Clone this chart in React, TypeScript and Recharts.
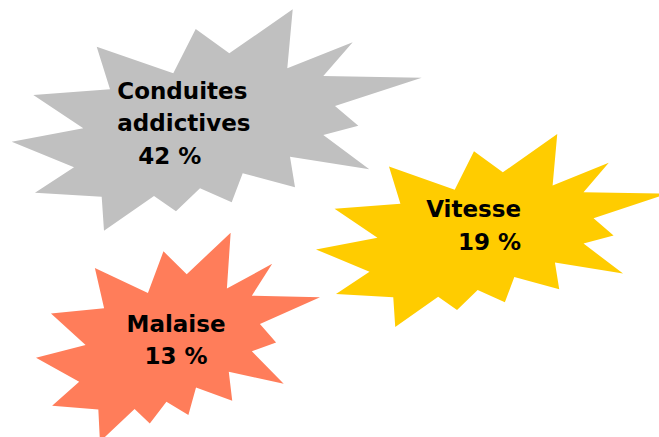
import React from "react";
import { ScatterChart, Scatter, XAxis, YAxis } from "recharts";

// Data
const categories: string[] = ["Conduites addictives", "Vitesse", "Malaise"];
const values: number[] = [42, 19, 13];

// Layout (pixel boxes of each starburst, identity scale)
const boxCenters: [number, number][] = [
  [216.7, 120],
  [492, 230.5],
  [178, 337.2],
];
const boxSizes: [number, number][] = [
  [410, 221.4],
  [352, 193],
  [284, 209],
];
const colors: string[] = ["#C0C0C0", "#FFCC00", "#FF7D5A"];
const labelAnchors: ("start" | "middle" | "end")[] = ["start", "end", "middle"];
// per-line [dx, dy] relative to the box center
const labelOffsets: [number, number][][] = [
  [[-99.4, -20.7], [-99.4, 10.7], [-78.4, 44.3]],
  [[29, -13.8], [29, 19.5]],
  [[-2, -5.5], [-2, 26.8]],
];

// normalized starburst outline (0..1 of bounding box)
const STAR: [number, number][] = [
  [0.6854, 0], [0.6722, 0.2665], [0.8317, 0.1491], [0.76, 0.3013],
  [1.0, 0.3089], [0.7885, 0.4368], [0.8454, 0.5257], [0.76, 0.5678],
  [0.8722, 0.7227], [0.6788, 0.6658], [0.691, 0.804], [0.5634, 0.7407],
  [0.5366, 0.8717], [0.4593, 0.8085], [0.4007, 0.9124], [0.3471, 0.8433],
  [0.2251, 1.0], [0.2195, 0.8464], [0.0568, 0.8284], [0.152, 0.7136],
  [0, 0.598], [0.1746, 0.5375], [0.0527, 0.3871], [0.2398, 0.3613],
  [0.2073, 0.1689], [0.3941, 0.2891], [0.4488, 0.089], [0.5307, 0.1987],
];

const data = categories.map((name, i) => ({
  name,
  value: values[i],
  x: boxCenters[i][0],
  y: boxCenters[i][1],
  idx: i,
}));

const StarShape = (props: any) => {
  const { cx, cy, payload } = props;
  const i = payload.idx;
  const [w, h] = boxSizes[i];
  const pts = STAR.map(([u, v]) => `${cx + (u - 0.5) * w},${cy + (v - 0.5) * h}`).join(" ");
  const lines = [...payload.name.split(" "), `${payload.value} %`];
  return (
    <g>
      <polygon points={pts} fill={colors[i]} stroke="none" />
      {lines.map((t: string, k: number) => (
        <text
          key={k}
          x={cx + labelOffsets[i][k][0]}
          y={cy + labelOffsets[i][k][1]}
          textAnchor={labelAnchors[i]}
          fontFamily="'DejaVu Sans', sans-serif"
          fontWeight={700}
          fontSize={23}
          fill="#000"
        >
          {t}
        </text>
      ))}
    </g>
  );
};

export default function App() {
  return (
    <div style={{ position: "absolute", left: 0, top: 0, width: 659, height: 437, background: "#fff" }}>
      <ScatterChart width={659} height={437} margin={{ top: 0, right: 0, bottom: 0, left: 0 }}>
        <XAxis type="number" dataKey="x" domain={[0, 659]} hide />
        <YAxis type="number" dataKey="y" domain={[0, 437]} reversed hide />
        <Scatter data={data} shape={<StarShape />} isAnimationActive={false} />
      </ScatterChart>
    </div>
  );
}
